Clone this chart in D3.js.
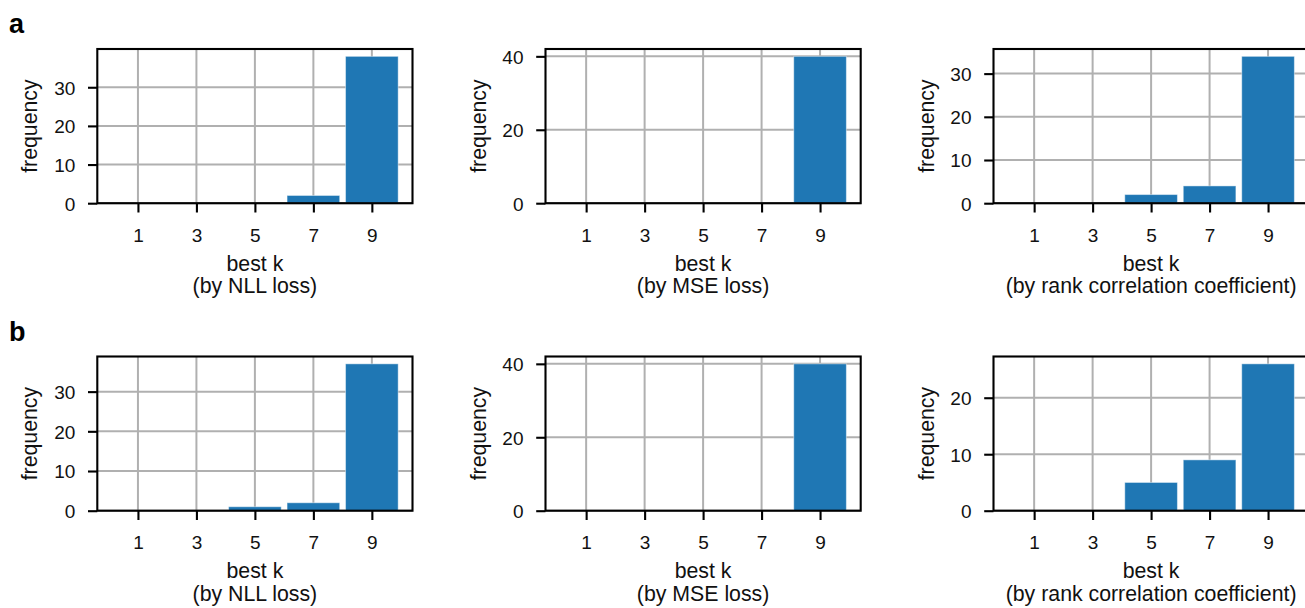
<!DOCTYPE html>
<html>
<head>
<meta charset="utf-8">
<script src="https://cdn.jsdelivr.net/npm/d3@7"></script>
<style>
  html, body { margin: 0; padding: 0; background: #fff; }
  svg { display: block; font-family: "Liberation Sans", Arial, Helvetica, sans-serif; }
</style>
</head>
<body>
<svg id="chart" width="1305" height="608"></svg>
<script>
// ---- data ----
const categories = [1, 3, 5, 7, 9];
const nllA  = [0, 0, 0, 2, 38];
const mseA  = [0, 0, 0, 0, 40];
const rankA = [0, 0, 2, 4, 34];
const nllB  = [0, 0, 1, 2, 37];
const mseB  = [0, 0, 0, 0, 40];
const rankB = [0, 0, 5, 9, 26];
const ticksNllA  = [0, 10, 20, 30];
const ticksMseA  = [0, 20, 40];
const ticksRankA = [0, 10, 20, 30];
const ticksNllB  = [0, 10, 20, 30];
const ticksMseB  = [0, 20, 40];
const ticksRankB = [0, 10, 20];
const xLabelTop = "best k";
const xLabelsBottom = ["(by NLL loss)", "(by MSE loss)", "(by rank correlation coefficient)"];
const yLabel = "frequency";
const rowLetters = ["a", "b"];

// ---- layout ----
const svg = d3.select("#chart");
svg.append("rect").attr("width", 1305).attr("height", 608).attr("fill", "#fff");

const colLeft = [97.3, 545.5, 993.5];
const rowTop = [49, 356.5];
const W = 315.2, H = 154.2;
const barColor = "#1f77b4";
const gridColor = "#b0b0b0";
const textColor = "#111";
const tickFs = 19, labelFs = 21.3, letterFs = 27;

const panels = [
  [ {v: nllA, t: ticksNllA}, {v: mseA, t: ticksMseA}, {v: rankA, t: ticksRankA} ],
  [ {v: nllB, t: ticksNllB}, {v: mseB, t: ticksMseB}, {v: rankB, t: ticksRankB} ]
];

const step = categories[1] - categories[0];
const barW = 0.9 * step;
const lo = d3.min(categories) - barW / 2, hi = d3.max(categories) + barW / 2;
const marg = 0.05 * (hi - lo);

panels.forEach((row, r) => {
  svg.append("text")
    .attr("x", 9).attr("y", rowTop[r] - 16)
    .attr("font-size", letterFs).attr("font-weight", "bold")
    .attr("fill", "#000").text(rowLetters[r]);

  row.forEach((p, c) => {
    const x0 = colLeft[c], y0 = rowTop[r];
    const g = svg.append("g").attr("transform", `translate(${x0},${y0})`);
    const x = d3.scaleLinear().domain([lo - marg, hi + marg]).range([0, W]);
    const y = d3.scaleLinear().domain([0, d3.max(p.v) * 1.05]).range([H, 0]);

    // grid
    g.append("g").selectAll("line.vg").data(categories).join("line")
      .attr("x1", d => x(d)).attr("x2", d => x(d)).attr("y1", 0).attr("y2", H)
      .attr("stroke", gridColor).attr("stroke-width", 2);
    g.append("g").selectAll("line.hg").data(p.t).join("line")
      .attr("x1", 0).attr("x2", W).attr("y1", d => y(d)).attr("y2", d => y(d))
      .attr("stroke", gridColor).attr("stroke-width", 2);

    // bars
    g.append("g").selectAll("rect").data(categories.map((k, i) => ({k, v: p.v[i]}))).join("rect")
      .attr("x", d => x(d.k - barW / 2))
      .attr("width", d => x(d.k + barW / 2) - x(d.k - barW / 2))
      .attr("y", d => y(d.v))
      .attr("height", d => y(0) - y(d.v))
      .attr("fill", barColor)
      .attr("stroke", "rgba(255,255,255,0.45)").attr("stroke-width", d => d.v > 0 ? 1 : 0);

    // axes
    const xAxis = d3.axisBottom(x).tickValues(categories).tickSize(9.3).tickPadding(6).tickFormat(d3.format("d"));
    const yAxis = d3.axisLeft(y).tickValues(p.t).tickSize(9.3).tickPadding(5).tickFormat(d3.format("d"));
    const gx = g.append("g").attr("transform", `translate(0,${H})`).call(xAxis);
    const gy = g.append("g").call(yAxis);
    [gx, gy].forEach(a => {
      a.select(".domain").remove();
      a.selectAll(".tick line").attr("stroke", "#000").attr("stroke-width", 2.1);
      a.selectAll(".tick text").attr("font-size", tickFs).attr("fill", textColor)
        .attr("font-family", "'Liberation Sans', Arial, sans-serif");
    });
    gx.selectAll(".tick text").attr("dy", null).attr("y", 38.5);
    gy.selectAll(".tick text").attr("dy", null).attr("x", -22).attr("y", tickFs * 0.36);

    // frame
    g.append("rect").attr("x", 0).attr("y", 0).attr("width", W).attr("height", H)
      .attr("fill", "none").attr("stroke", "#000").attr("stroke-width", 2.1);

    // labels
    g.append("text").attr("x", W / 2).attr("y", H + 67.5)
      .attr("text-anchor", "middle").attr("font-size", labelFs).attr("fill", textColor)
      .text(xLabelTop);
    g.append("text").attr("x", W / 2).attr("y", H + 90)
      .attr("text-anchor", "middle").attr("font-size", labelFs).attr("fill", textColor)
      .text(xLabelsBottom[c]);
    g.append("text")
      .attr("transform", `translate(-60,${H / 2}) rotate(-90)`)
      .attr("text-anchor", "middle").attr("font-size", labelFs).attr("fill", textColor)
      .text(yLabel);
  });
});
</script>
</body>
</html>
